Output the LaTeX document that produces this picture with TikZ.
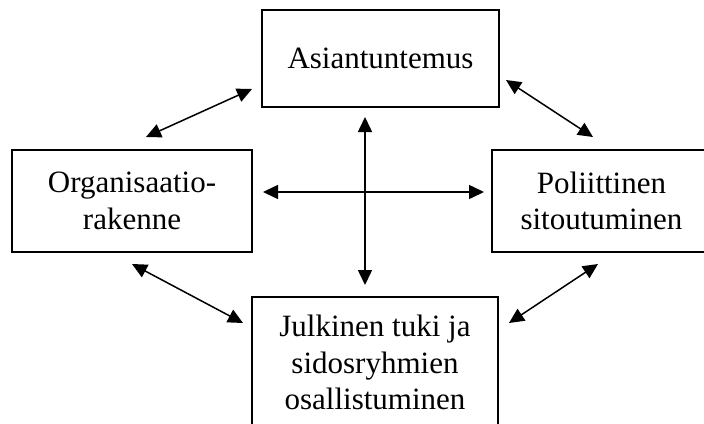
\documentclass[tikz,border=0pt]{standalone}
\usepackage{fontspec}
\setmainfont{Liberation Serif}
\usetikzlibrary{arrows.meta,positioning}

\begin{document}
\begin{tikzpicture}[
  x=1pt, y=-1pt,
  box/.style={draw,line width=1.5pt,align=center,inner sep=0pt,
    font=\fontsize{31}{36.5}\selectfont},
  arrow/.style={{Triangle[length=15pt,width=14pt]}-{Triangle[length=15pt,width=14pt]},line width=1.5pt}
]
\useasboundingbox (0,0) rectangle (704,423);

\node[box, minimum width=237pt, minimum height=97pt] (asian) at (380.5,58.5) {Asiantuntemus};
\node[box, minimum width=240pt, minimum height=102pt] (org) at (132,201) {Organisaatio-\\rakenne};
\node[box, minimum width=219pt, minimum height=102pt] (pol) at (601.5,201) {Poliittinen\\sitoutuminen};
\node[box, minimum width=246pt, minimum height=131.5pt] (julk) at (375,362.75) {Julkinen tuki ja\\sidosryhmien\\osallistuminen};

% arrow end points
\coordinate (ao) at (146,137);
\coordinate (oa) at (252,89);
\coordinate (ap) at (506,80);
\coordinate (pa) at (593,137);
\coordinate (oj) at (132,264);
\coordinate (jo) at (243,323);
\coordinate (pj) at (598,264);
\coordinate (jp) at (509,323);
\coordinate (hl) at (263,192);
\coordinate (hr) at (484,192);
\coordinate (vt) at (365,117);
\coordinate (vb) at (365,285);

\draw[arrow] (ao) -- (oa);
\draw[arrow] (ap) -- (pa);
\draw[arrow] (oj) -- (jo);
\draw[arrow] (pj) -- (jp);
\draw[arrow] (hl) -- (hr);
\draw[arrow] (vt) -- (vb);
\end{tikzpicture}
\end{document}
